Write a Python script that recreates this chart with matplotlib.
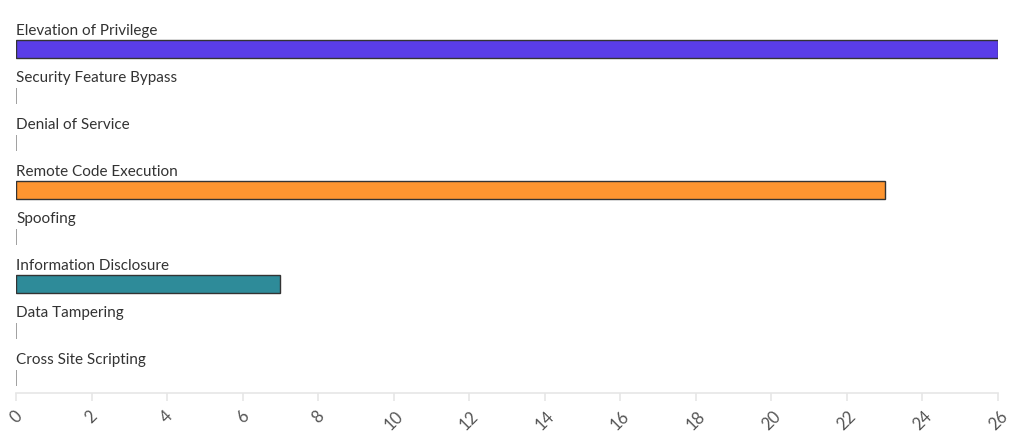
import matplotlib
matplotlib.use("Agg")
import matplotlib.pyplot as plt
import numpy as np

categories = [
    "Elevation of Privilege",
    "Security Feature Bypass",
    "Denial of Service",
    "Remote Code Execution",
    "Spoofing",
    "Information Disclosure",
    "Data Tampering",
    "Cross Site Scripting",
]
counts = [26, 0, 0, 23, 0, 7, 0, 0]
bar_colors = ["#5a3de8", "#ffffff", "#ffffff", "#fe9530", "#ffffff", "#2e8b99", "#ffffff", "#ffffff"]
ticks = list(range(0, 27, 2))

plt.rcParams["font.family"] = ["Lato", "DejaVu Sans"]

fig = plt.figure(figsize=(10.24, 4.46), dpi=100)
ax = fig.add_axes([16 / 1024, (446 - 393) / 446, (998 - 16) / 1024, (393 - 2) / 446])

ys = np.arange(len(categories))
for y, name, v, c in zip(ys, categories, counts, bar_colors):
    if v > 0:
        ax.barh(y, v, height=0.38, color=c, edgecolor="#333333", linewidth=1)
    else:
        ax.barh(y, v, height=0.34, color=c, edgecolor="#999999", linewidth=1.3)
    ax.text(0, y - 0.38, name, ha="left", va="center", fontsize=11, color="#333333")

ax.set_xlim(0, 26)
ax.set_ylim(7.319, -1.0)
ax.set_xticks(ticks)
ax.set_xticklabels([str(t) for t in ticks], rotation=45, ha="center", va="top",
                   fontsize=12, color="#555555")
ax.tick_params(axis="x", length=6, color="#e6e6e6", width=1.2, pad=5)
ax.set_yticks([])
for s in ["top", "right", "left"]:
    ax.spines[s].set_visible(False)
ax.spines["bottom"].set_color("#e6e6e6")
ax.spines["bottom"].set_linewidth(1.2)

fig.savefig("out.png", dpi=100)
